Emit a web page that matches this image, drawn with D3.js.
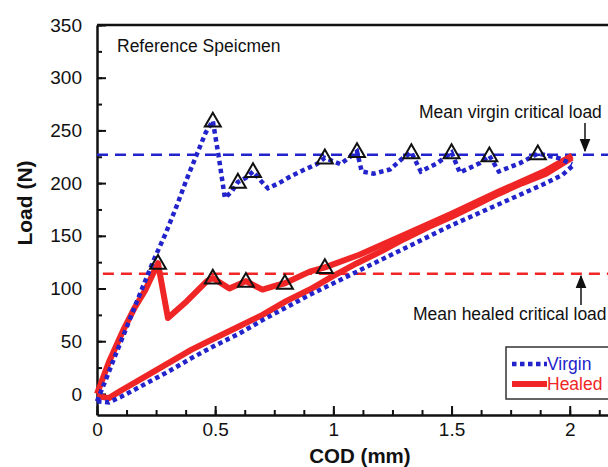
<!DOCTYPE html>
<html>
<head>
<meta charset="utf-8">
<script src="https://cdn.jsdelivr.net/npm/d3@7"></script>
<style>
  body { margin: 0; background: #fff; }
  svg { display: block; font-family: "Liberation Sans", Arial, sans-serif; }
</style>
</head>
<body>
<div id="canvas"></div>
<script>
// virgin specimen: loading + crack growth, then unloading
var virginLoading = [[0,-7],[0.04,15],[0.08,38],[0.12,60],[0.16,83],[0.2,105],[0.24,127],[0.29,152],[0.34,180],[0.38,204],[0.42,226],[0.46,248],[0.49,259],
    [0.515,225],[0.541,186],[0.57,192],[0.596,201],[0.63,205],[0.66,211],[0.69,203],[0.723,195],[0.77,200],[0.816,206],[0.87,212],[0.93,218],[0.964,224],
    [1.03,218],[1.1,230],[1.12,211],[1.17,209],[1.24,213],[1.29,223],[1.33,229],[1.37,211],[1.44,219],[1.5,229],[1.535,210],[1.62,219],[1.66,226],
    [1.7,211],[1.79,219],[1.865,228],[1.95,224],[2.01,218]]
var virginUnloading = [[2.01,216],[1.97,208],[1.9,200],[1.8,190],[1.7,180],[1.6,170],[1.5,160],[1.4,149],[1.3,138],[1.2,127],[1.1,116],[1.0,105],
    [0.9,94],[0.8,82],[0.7,70],[0.6,57],[0.5,46],[0.4,34],[0.3,21],[0.2,9],[0.1,-3],[0.05,-8],[0,-7]]
// healed specimen
var healedLoading = [[0,0],[0.05,30],[0.11,60],[0.16,82],[0.203,98],[0.258,124],[0.3,72],[0.38,88],[0.465,107],[0.49,110],[0.56,100],[0.63,107],
    [0.7,99],[0.76,103],[0.795,105],[0.9,116],[0.964,120],[1.11,132],[1.32,153],[1.5,171],[1.7,192],[1.9,212],[2.01,226]]
var healedUnloading = [[2.01,224],[1.9,209],[1.8,200],[1.7,190],[1.6,179],[1.5,168],[1.4,158],[1.3,147],[1.2,135],[1.1,124],[1.0,112],[0.9,99],
    [0.8,88],[0.7,75],[0.6,64],[0.5,53],[0.4,42],[0.3,29],[0.2,16],[0.1,3],[0.05,-4],[0,-2]]

// critical load peaks (triangles)
var virginPeaks = [[0.49,259],[0.596,201],[0.66,211],[0.964,224],[1.1,230],[1.33,229],[1.5,229],[1.66,226],[1.865,228]]
var healedPeaks = [[0.258,124],[0.49,110],[0.63,107],[0.795,105],[0.964,120]]

var meanVirgin = 227
var meanHealed = 114

var xTicks = [0, 0.5, 1, 1.5, 2]
var yTicks = [0, 50, 100, 150, 200, 250, 300, 350]

var width = 608
var height = 467
var blue = "#2323cc"
var red = "#f02626"

var svg = d3.select("#canvas")
    .append("svg")
    .attr("width", width)
    .attr("height", height)

var xScale = d3.scaleLinear().domain([0, 2.2]).range([97, 617])
var yScale = d3.scaleLinear().domain([-20, 350]).range([415, 25])

// minor ticks first
svg.append("g")
    .attr("transform", "translate(0,415)")
    .call(d3.axisBottom(xScale).tickValues(d3.range(0, 2.2, 0.125)).tickSize(-5).tickFormat(""))
    .call(function (g) { g.select(".domain").remove() })
svg.append("g")
    .attr("transform", "translate(97,0)")
    .call(d3.axisLeft(yScale).tickValues(d3.range(-0, 351, 25)).tickSize(-5).tickFormat(""))
    .call(function (g) { g.select(".domain").remove() })

var xAxis = svg.append("g")
    .attr("transform", "translate(0,415)")
    .call(d3.axisBottom(xScale).tickValues(xTicks).tickSizeInner(-9).tickSizeOuter(0).tickPadding(8).tickFormat(d3.format("")))
var yAxis = svg.append("g")
    .attr("transform", "translate(97,0)")
    .call(d3.axisLeft(yScale).tickValues(yTicks).tickSizeInner(-9).tickSizeOuter(0).tickPadding(15))

svg.selectAll(".tick line").attr("stroke", "#111").attr("stroke-width", 2)
svg.selectAll(".domain").attr("stroke", "#111").attr("stroke-width", 2.5)
svg.selectAll(".tick text").attr("font-size", 19).attr("fill", "#111").style("font-family", "Liberation Sans, Arial, sans-serif")

// top frame
svg.append("line")
    .attr("x1", 97).attr("x2", 617)
    .attr("y1", yScale(350)).attr("y2", yScale(350))
    .attr("stroke", "#111").attr("stroke-width", 2.5)

// mean lines
svg.append("line")
    .attr("x1", xScale(0)).attr("x2", 617)
    .attr("y1", yScale(meanVirgin)).attr("y2", yScale(meanVirgin))
    .attr("stroke", blue).attr("stroke-width", 2.5).attr("stroke-dasharray", "11,7")
svg.append("line")
    .attr("x1", xScale(0.025)).attr("x2", 617)
    .attr("y1", yScale(meanHealed)).attr("y2", yScale(meanHealed))
    .attr("stroke", red).attr("stroke-width", 2.5).attr("stroke-dasharray", "11,7")

var line = d3.line()
    .x(function (d) { return xScale(d[0]) })
    .y(function (d) { return yScale(d[1]) })

// healed curves (solid thick red)
svg.selectAll(".healed")
    .data([healedUnloading, healedLoading])
    .enter()
    .append("path")
    .attr("class", "healed")
    .attr("d", line)
    .attr("fill", "none")
    .attr("stroke", red)
    .attr("stroke-width", 6)
    .attr("stroke-linejoin", "round")

// virgin curves (square dotted blue)
svg.selectAll(".virgin")
    .data([virginUnloading, virginLoading])
    .enter()
    .append("path")
    .attr("class", "virgin")
    .attr("d", line)
    .attr("fill", "none")
    .attr("stroke", blue)
    .attr("stroke-width", 4.5)
    .attr("stroke-dasharray", "4.5,3.5")

// triangle markers
var tri = d3.symbol().type(d3.symbolTriangle).size(110)
svg.selectAll(".peak")
    .data(virginPeaks.concat(healedPeaks))
    .enter()
    .append("path")
    .attr("class", "peak")
    .attr("d", tri)
    .attr("transform", function (d) { return "translate(" + xScale(d[0]) + "," + (yScale(d[1]) + 1) + ")" })
    .attr("fill", "none")
    .attr("stroke", "#111")
    .attr("stroke-width", 2)

// text annotations
svg.append("text")
    .attr("x", 117).attr("y", 52)
    .attr("font-size", 17.5).attr("fill", "#111")
    .text("Reference Speicmen")

svg.append("text")
    .attr("x", 419).attr("y", 118)
    .attr("font-size", 17.5).attr("fill", "#111")
    .text("Mean virgin critical load")

svg.append("text")
    .attr("x", 413).attr("y", 320)
    .attr("font-size", 17.5).attr("fill", "#111")
    .text("Mean healed critical load")

// arrows
svg.append("defs").append("marker")
    .attr("id", "arrow")
    .attr("viewBox", "0 0 10 10")
    .attr("refX", 9).attr("refY", 5)
    .attr("markerWidth", 9).attr("markerHeight", 9)
    .attr("orient", "auto")
    .append("path")
    .attr("d", "M0,1L10,5L0,9Z")
    .attr("fill", "#111")

svg.append("line")
    .attr("x1", 585).attr("x2", 585)
    .attr("y1", 123).attr("y2", 151)
    .attr("stroke", "#111").attr("stroke-width", 1.5)
    .attr("marker-end", "url(#arrow)")
svg.append("line")
    .attr("x1", 581).attr("x2", 581)
    .attr("y1", 305).attr("y2", 276)
    .attr("stroke", "#111").attr("stroke-width", 1.5)
    .attr("marker-end", "url(#arrow)")

// axis titles
svg.append("text")
    .attr("x", 360).attr("y", 463)
    .attr("text-anchor", "middle")
    .attr("font-size", 20.5).attr("font-weight", "bold").attr("fill", "#111")
    .text("COD (mm)")

svg.append("text")
    .attr("transform", "translate(32,203) rotate(-90)")
    .attr("text-anchor", "middle")
    .attr("font-size", 21).attr("font-weight", "bold").attr("fill", "#111")
    .text("Load (N)")

// legend
var legend = svg.append("g").attr("id", "legend")
legend.append("rect")
    .attr("x", 506).attr("y", 347)
    .attr("width", 103).attr("height", 52)
    .attr("fill", "#fff").attr("stroke", "#333").attr("stroke-width", 1.5)

var legendItems = [
    { label: "Virgin", color: blue, dash: "4.5,3.5", w: 4.5 },
    { label: "Healed", color: red, dash: null, w: 6 }
]
var legendEntry = legend.selectAll(".legendEntry")
    .data(legendItems)
    .enter()
    .append("g")
    .attr("class", "legendEntry")
    .attr("transform", function (d, i) { return "translate(0," + (364 + i * 20) + ")" })

legendEntry.append("line")
    .attr("x1", 512).attr("x2", 547)
    .attr("stroke", function (d) { return d.color })
    .attr("stroke-width", function (d) { return d.w })
    .attr("stroke-dasharray", function (d) { return d.dash })

legendEntry.append("text")
    .attr("x", 547).attr("y", 6)
    .attr("font-size", 17.5)
    .attr("fill", function (d) { return d.color })
    .text(function (d) { return d.label })
</script>
</body>
</html>
